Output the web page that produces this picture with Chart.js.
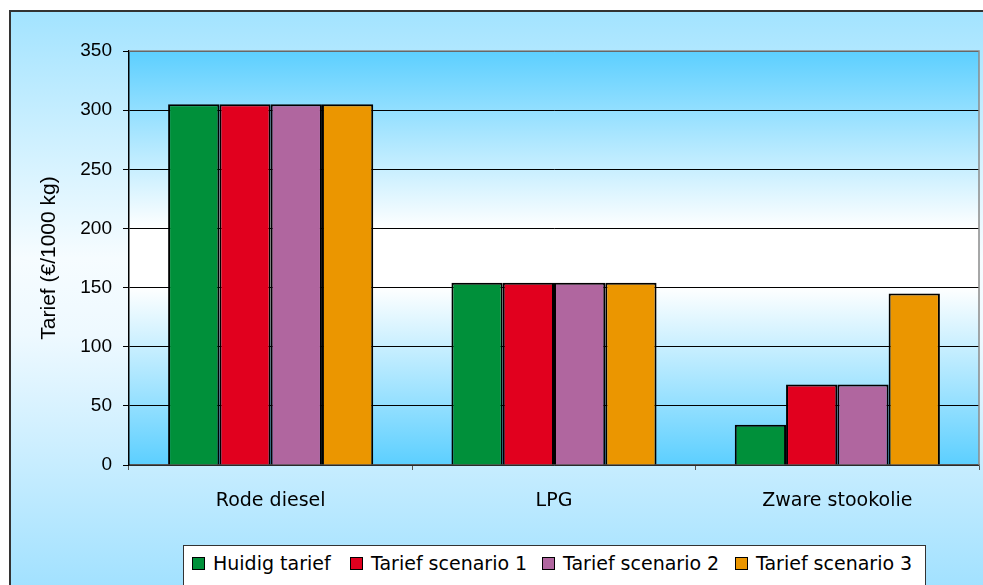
<!DOCTYPE html>
<html>
<head>
<meta charset="utf-8">
<script src="https://cdn.jsdelivr.net/npm/chart.js@4/dist/chart.umd.min.js"></script>
<style>
  html, body { margin: 0; padding: 0; background: #fff; }
  #wrap { position: relative; width: 983px; height: 585px; overflow: hidden; }
  #chart { position: absolute; left: 0; top: 0; }
  #legend {
    position: absolute; left: 183px; top: 545px; width: 743px; height: 60px;
    background: #fff; border: 1px solid #333; box-sizing: border-box;
    font-family: "DejaVu Sans", sans-serif; font-size: 19px; color: #000;
  }
  .lg-box { position: absolute; top: 11px; width: 11px; height: 11px; border: 1px solid #000; }
  .lg-text { position: absolute; top: 6px; line-height: 22px; white-space: pre; }
</style>
</head>
<body>
<div id="wrap">
  <canvas id="chart" width="983" height="585"></canvas>
  <div id="legend"></div>
</div>
<script>
const CATEGORIES = ['Rode diesel', 'LPG', 'Zware stookolie'];
const SERIES_NAMES = ['Huidig tarief', 'Tarief scenario 1', 'Tarief scenario 2', 'Tarief scenario 3'];
const HUIDIG = [305, 154, 34];
const SCENARIO_1 = [305, 154, 68];
const SCENARIO_2 = [305, 154, 68];
const SCENARIO_3 = [305, 154, 145];
const SERIES_COLORS = ['#00903A', '#E1001E', '#B0669F', '#EB9600'];
const Y_TITLE = 'Tarief (€/1000 kg)';

const seriesValues = [HUIDIG, SCENARIO_1, SCENARIO_2, SCENARIO_3];
// left edge of each legend swatch, inside the legend box
const LEGEND_X = [8, 166, 358, 551];

// backgrounds: outer frame and plot area gradients
const backdrop = {
  id: 'backdrop',
  beforeDraw(chart) {
    const { ctx, chartArea: a } = chart;
    ctx.save();
    ctx.fillStyle = '#fff';
    ctx.fillRect(0, 0, chart.width, chart.height);

    const og = ctx.createLinearGradient(0, 10, 0, 600);
    og.addColorStop(0, '#a2e3ff');
    og.addColorStop(0.42, '#f6fcff');
    og.addColorStop(0.55, '#eef9ff');
    og.addColorStop(1, '#9ee0ff');
    ctx.fillStyle = og;
    ctx.fillRect(10, 11, chart.width, chart.height);
    ctx.strokeStyle = '#333';
    ctx.lineWidth = 2;
    ctx.strokeRect(10, 11, chart.width + 10, chart.height + 10);

    const pg = ctx.createLinearGradient(0, a.top, 0, a.bottom);
    pg.addColorStop(0, '#5ccfff');
    pg.addColorStop(0.43, '#ffffff');
    pg.addColorStop(0.57, '#ffffff');
    pg.addColorStop(1, '#5ccfff');
    ctx.fillStyle = pg;
    ctx.fillRect(a.left, a.top, a.right - a.left, a.bottom - a.top);
    ctx.restore();
  },
  afterDraw(chart) {
    const { ctx, chartArea: a } = chart;
    ctx.save();
    ctx.strokeStyle = '#8a8a8a';
    ctx.lineWidth = 1.5;
    ctx.beginPath();
    ctx.moveTo(a.left, a.top);
    ctx.lineTo(a.right, a.top);
    ctx.lineTo(a.right, a.bottom);
    ctx.stroke();
    ctx.restore();
  },
};

new Chart(document.getElementById('chart'), {
  type: 'bar',
  data: {
    labels: CATEGORIES,
    datasets: SERIES_NAMES.map((name, i) => ({
      label: name,
      data: seriesValues[i],
      backgroundColor: SERIES_COLORS[i],
      borderColor: '#000',
      borderWidth: 2,
      categoryPercentage: 0.724,
      barPercentage: 1.0,
    })),
  },
  options: {
    responsive: false,
    animation: false,
    layout: { padding: { left: 30, top: 51, right: 4, bottom: 60 } },
    plugins: {
      legend: { display: false },
      tooltip: { enabled: false },
    },
    scales: {
      x: {
        afterFit: (s) => { s.height = 60; },
        grid: { offset: true, drawOnChartArea: false, tickLength: 5, color: '#555' },
        border: { color: '#555', width: 1.5 },
        ticks: {
          padding: 20,
          color: '#000',
          font: { family: 'DejaVu Sans', size: 19 },
        },
      },
      y: {
        min: 0,
        max: 350,
        afterFit: (s) => { s.width = 99; },
        grid: { color: '#000', tickLength: 6, lineWidth: 1 },
        border: { color: '#000', width: 1.5 },
        ticks: {
          stepSize: 50,
          padding: 11,
          color: '#000',
          font: { family: 'Liberation Sans', size: 19 },
        },
        title: {
          display: true,
          text: Y_TITLE,
          color: '#000',
          padding: { top: 7, bottom: 0 },
          font: { family: 'Liberation Sans', size: 21 },
        },
      },
    },
  },
  plugins: [backdrop],
});

// legend in a bordered box
document.getElementById('legend').innerHTML = SERIES_NAMES.map((name, i) => `
  <span class="lg-box" style="left:${LEGEND_X[i]}px;background:${SERIES_COLORS[i]}"></span>
  <span class="lg-text" style="left:${LEGEND_X[i] + 21}px">${name}</span>`).join('');
</script>
</body>
</html>
